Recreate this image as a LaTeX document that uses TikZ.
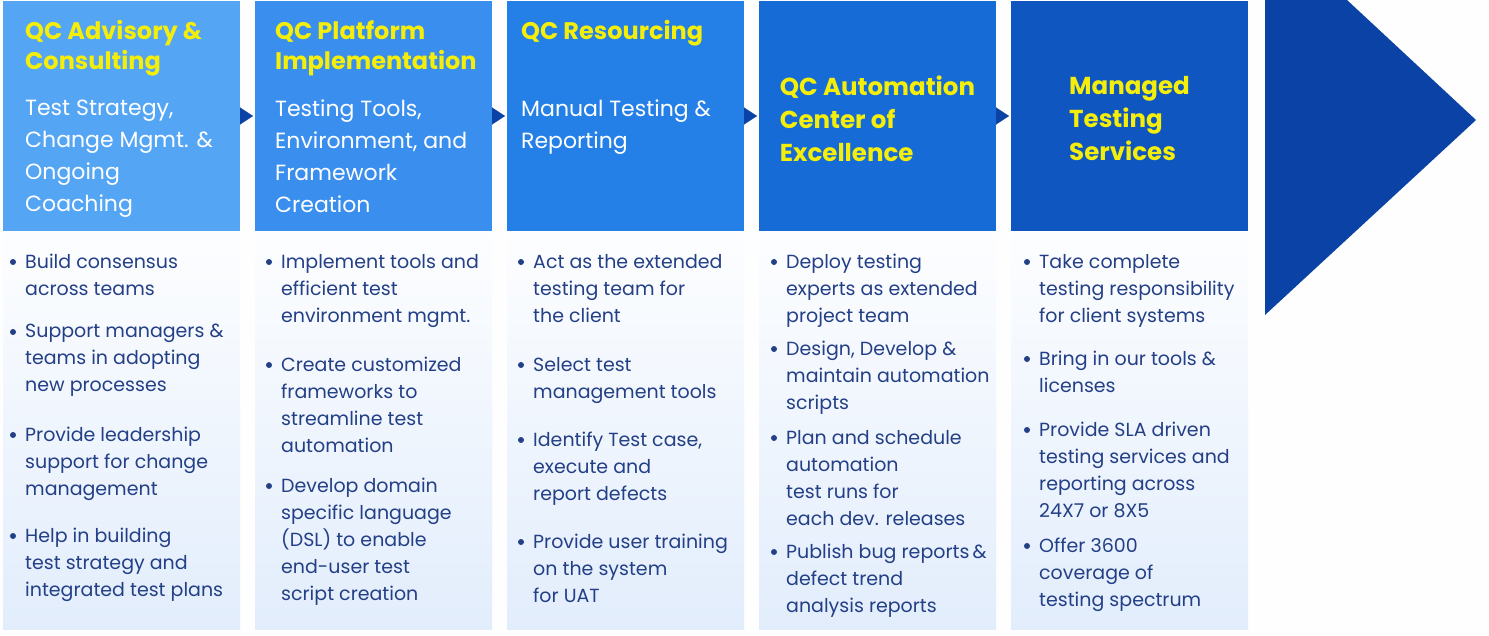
\documentclass[tikz,border=0pt]{standalone}
\usepackage{fontspec}
\setmainfont{Poppins}
\usetikzlibrary{arrows.meta,positioning}
\definecolor{stageA}{HTML}{55A5F5}
\definecolor{stageB}{HTML}{3A8FEE}
\definecolor{stageC}{HTML}{2480E6}
\definecolor{stageD}{HTML}{176BD6}
\definecolor{stageE}{HTML}{0F56C0}
\definecolor{navy}{HTML}{0A42A5}
\definecolor{ink}{HTML}{233F86}
\definecolor{gold}{HTML}{F4EE0A}
\definecolor{panelblue}{HTML}{E2EDFC}
\tikzset{
  stage/.style={minimum width=237pt,minimum height=230pt,inner sep=0pt,outer sep=0pt},
  panel/.style={minimum width=237pt,minimum height=397pt,inner sep=0pt,outer sep=0pt,top color=white!60!panelblue!20,bottom color=panelblue},
  headline/.style={text=gold,align=left,inner sep=0pt,anchor=north west,font=\bfseries\fontsize{24}{30}\selectfont,execute at begin node={\rule{0pt}{18pt}}},
  subline/.style={text=white,align=left,inner sep=0pt,anchor=north west,font=\fontsize{22}{32}\selectfont,execute at begin node={\rule{0pt}{17pt}}},
  item/.style={text=ink,align=left,inner sep=0pt,anchor=north west,font=\fontsize{19}{27}\selectfont,execute at begin node={\rule{0pt}{14pt}}},
  step arrow/.style={-{Triangle[length=13pt,width=17pt]},navy,line width=0.1pt,shorten >=2pt}
}
\begin{document}
\begin{tikzpicture}[x=1pt,y=-1pt]
\fill[white!97!panelblue] (0,0) rectangle (1489,635);
\useasboundingbox (0,0) rectangle (1489,635);
\node[stage,fill=stageA,anchor=north west] (h1) at (3,1) {};
\node[stage,fill=stageB,right=15pt of h1] (h2) {};
\node[stage,fill=stageC,right=15pt of h2] (h3) {};
\node[stage,fill=stageD,right=15pt of h3] (h4) {};
\node[stage,fill=stageE,right=15pt of h4] (h5) {};
\foreach \k in {1,...,5} \node[panel,below=1pt of h\k] (p\k) {};
\foreach \a/\b in {1/2,2/3,3/4,4/5} \draw[step arrow] (h\a.east) to (h\b.west);
\fill[navy] (1265,0) to (1347,0) to (1476,120) to (1265,315) to cycle;
\node[headline] (t1) at (25,20) {QC Advisory \&\\Consulting};
\node[headline] (t2) at (275,20) {QC Platform\\Implementation};
\node[headline] (t3) at (521,20) {QC Resourcing};
\node[headline,anchor=center,font=\bfseries\fontsize{24.5}{33}\selectfont] (t4) at ([yshift=-3pt]h4.center) {QC Automation\\Center of\\Excellence};
\node[headline,anchor=center,font=\bfseries\fontsize{24.5}{33}\selectfont] (t5) at ([yshift=-3pt]h5.center) {Managed\\Testing\\Services};
\node[subline] (s1) at (25,100) {Test Strategy,\\Change Mgmt. \&\\Ongoing\\Coaching};
\node[subline] (s2) at (275,100) {Testing Tools,\\Environment, and\\Framework\\Creation};
\node[subline] (s3) at (521,100) {Manual Testing \&\\Reporting};
\foreach \ty/\tx [count=\k] in {254/{Build consensus\\across teams},324/{Support managers \&\\teams in adopting\\new processes},427/{Provide leadership\\support for change\\management},528/{Help in building\\test strategy and\\integrated test plans}}
  {\node[item] (a\k) at (25,\ty) {\tx};
   \fill[ink] ([shift={(-12,8)}]a\k.north west) circle (3);}
\foreach \ty/\tx [count=\k] in {254/{Implement tools and\\efficient test\\environment mgmt.},357/{Create customized\\frameworks to\\streamline test\\automation},478/{Develop domain\\specific language\\(DSL) to enable\\end-user test\\script creation}}
  {\node[item] (b\k) at (281,\ty) {\tx};
   \fill[ink] ([shift={(-12,8)}]b\k.north west) circle (3);}
\foreach \ty/\tx [count=\k] in {254/{Act as the extended\\testing team for\\the client},357/{Select test\\management tools},432/{Identify Test case,\\execute and\\report defects},534/{Provide user training\\on the system\\for UAT}}
  {\node[item] (c\k) at (533,\ty) {\tx};
   \fill[ink] ([shift={(-12,8)}]c\k.north west) circle (3);}
\foreach \ty/\tx [count=\k] in {254/{Deploy testing\\experts as extended\\project team},341/{Design, Develop \&\\maintain automation\\scripts},430/{Plan and schedule\\automation\\test runs for\\each dev. releases},544/{Publish bug reports\,\&\\defect trend\\analysis reports}}
  {\node[item] (d\k) at (786,\ty) {\tx};
   \fill[ink] ([shift={(-12,8)}]d\k.north west) circle (3);}
\foreach \ty/\tx [count=\k] in {254/{Take complete\\testing responsibility\\for client systems},351/{Bring in our tools \&\\licenses},422/{Provide SLA driven\\testing services and\\reporting across\\24X7 or 8X5},538/{Offer 3600\\coverage of\\testing spectrum}}
  {\node[item] (e\k) at (1039,\ty) {\tx};
   \fill[ink] ([shift={(-12,8)}]e\k.north west) circle (3);}
\end{tikzpicture}
\end{document}
